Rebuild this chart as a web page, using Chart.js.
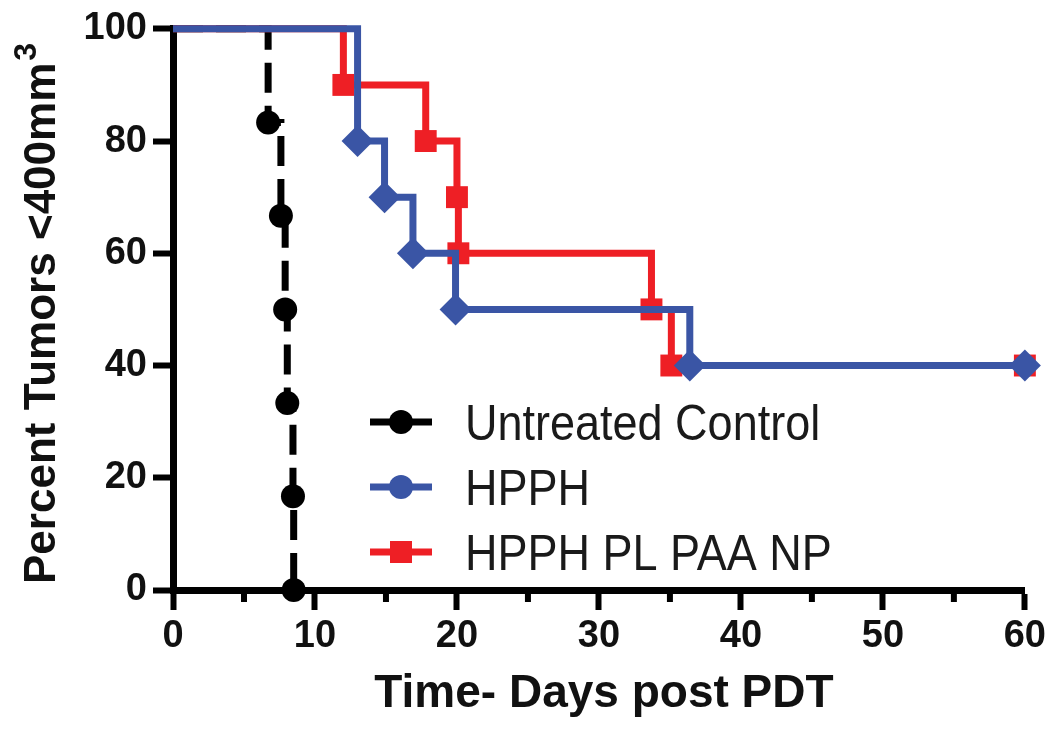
<!DOCTYPE html>
<html>
<head>
<meta charset="utf-8">
<script src="https://cdn.jsdelivr.net/npm/chart.js@4.4.1/dist/chart.umd.min.js"></script>
<style>
  html, body { margin: 0; padding: 0; background: #fff; }
  #wrap { width: 1050px; height: 729px; }
</style>
</head>
<body>
<div id="wrap"><canvas id="survivalChart"></canvas></div>
<script>
const controlDays = [0, 6.7, 7.6, 7.9, 8.05, 8.45, 8.5];
const controlPct = [100, 83.3, 66.7, 50, 33.3, 16.7, 0];
const hpphDays = [0, 13, 14.9, 16.9, 19.9, 36.4, 60];
const hpphPct = [100, 80, 70, 60, 50, 40, 40];
const npDays = [0, 12, 17.8, 20, 20.1, 33.7, 35.1, 60];
const npPct = [100, 90, 80, 70, 60, 50, 40, 40];
const xTicks = [0, 10, 20, 30, 40, 50, 60];
const xMinorTicks = [5, 15, 25, 35, 45, 55];
const yTicks = [0, 20, 40, 60, 80, 100];
const seriesNames = ['Untreated Control', 'HPPH', 'HPPH PL PAA NP'];

const BLACK = '#000000';
const BLUE = '#3a55a5';
const RED = '#ee1f25';
const FONT = '"Liberation Sans", Arial, Helvetica, sans-serif';

function toPoints(xs, ys) {
  return xs.map((v, i) => ({ x: v, y: ys[i] }));
}

// first point (day 0) has no marker
const hideFirst = (r) => (ctx) => ctx.dataIndex === 0 ? 0 : r;

const decor = {
  id: 'decor',
  afterDraw(chart) {
    const ctx = chart.ctx;
    const x = chart.scales.x, y = chart.scales.y;
    ctx.save();

    // minor x ticks
    ctx.strokeStyle = BLACK;
    ctx.lineWidth = 6;
    xMinorTicks.forEach(v => {
      const px = x.getPixelForValue(v);
      ctx.beginPath();
      ctx.moveTo(px, y.bottom);
      ctx.lineTo(px, y.bottom + 12);
      ctx.stroke();
    });

    // x title
    ctx.fillStyle = '#111';
    ctx.font = 'bold 46px ' + FONT;
    ctx.textAlign = 'center';
    ctx.textBaseline = 'alphabetic';
    ctx.fillText('Time- Days post PDT', x.getPixelForValue(30) + 5, 707);

    // y title with superscript
    ctx.save();
    ctx.translate(55, 584);
    ctx.rotate(-Math.PI / 2);
    ctx.textAlign = 'left';
    ctx.font = 'bold 44px ' + FONT;
    const main = 'Percent Tumors <400mm';
    ctx.fillText(main, 0, 0);
    const w = ctx.measureText(main).width;
    ctx.font = 'bold 32px ' + FONT;
    ctx.fillText('3', w + 2, -19);
    ctx.restore();

    // legend
    const rows = [422, 487, 552];
    const colors = [BLACK, BLUE, RED];
    const shapes = ['circle', 'circle', 'square'];
    rows.forEach((ry, i) => {
      ctx.strokeStyle = colors[i];
      ctx.fillStyle = colors[i];
      ctx.lineWidth = 7;
      ctx.beginPath();
      ctx.moveTo(370, ry);
      ctx.lineTo(432, ry);
      ctx.stroke();
      ctx.beginPath();
      if (shapes[i] === 'circle') {
        ctx.arc(401, ry, 12, 0, Math.PI * 2);
      } else {
        ctx.rect(390, ry - 11, 22, 22);
      }
      ctx.fill();

      ctx.save();
      ctx.fillStyle = '#1a1a1a';
      ctx.font = '50px ' + FONT;
      ctx.textAlign = 'left';
      ctx.translate(465, rows[i] + 18);
      ctx.scale(0.9, 1);
      ctx.fillText(seriesNames[i], 0, 0);
      ctx.restore();
    });

    ctx.restore();
  }
};

new Chart(document.getElementById('survivalChart'), {
  type: 'scatter',
  data: {
    datasets: [
      {
        label: seriesNames[1],
        data: toPoints(hpphDays, hpphPct),
        showLine: true,
        stepped: true,
        borderColor: BLUE,
        backgroundColor: BLUE,
        borderWidth: 7,
        pointStyle: 'rectRot',
        pointRadius: hideFirst(16),
        pointBorderWidth: 0,
        clip: false,
        order: 0
      },
      {
        label: seriesNames[2],
        data: toPoints(npDays, npPct),
        showLine: true,
        stepped: true,
        borderColor: RED,
        backgroundColor: RED,
        borderWidth: 7,
        pointStyle: 'rect',
        pointRadius: hideFirst(15.5),
        pointBorderWidth: 0,
        clip: false,
        order: 1
      },
      {
        label: seriesNames[0],
        data: toPoints(controlDays, controlPct),
        showLine: true,
        stepped: true,
        borderColor: BLACK,
        backgroundColor: BLACK,
        borderWidth: 7,
        borderDash: [30, 13],
        pointStyle: 'circle',
        pointRadius: hideFirst(12),
        pointBorderWidth: 0,
        clip: false,
        order: 2
      }
    ]
  },
  options: {
    responsive: true,
    maintainAspectRatio: false,
    animation: false,
    layout: { padding: { top: 25, right: 25, left: 0, bottom: 0 } },
    plugins: {
      legend: { display: false },
      tooltip: { enabled: false }
    },
    scales: {
      x: {
        type: 'linear',
        min: 0,
        max: 60,
        afterBuildTicks: (s) => { s.ticks = xTicks.map(v => ({ value: v })); },
        afterFit: (s) => { s.height = 139; },
        grid: { drawOnChartArea: false, tickLength: 20, tickWidth: 6, tickColor: BLACK },
        border: { display: true, width: 7, color: BLACK },
        ticks: {
          color: '#111',
          padding: 4,
          maxRotation: 0,
          font: { family: FONT, size: 38, weight: 'bold' }
        }
      },
      y: {
        min: 0,
        max: 100,
        afterBuildTicks: (s) => { s.ticks = yTicks.map(v => ({ value: v })); },
        afterFit: (s) => { s.width = 173; },
        grid: { drawOnChartArea: false, tickLength: 20, tickWidth: 6, tickColor: BLACK },
        border: { display: true, width: 7, color: BLACK },
        ticks: {
          color: '#111',
          padding: 6,
          font: { family: FONT, size: 38, weight: 'bold' }
        }
      }
    }
  },
  plugins: [decor]
});
</script>
</body>
</html>
